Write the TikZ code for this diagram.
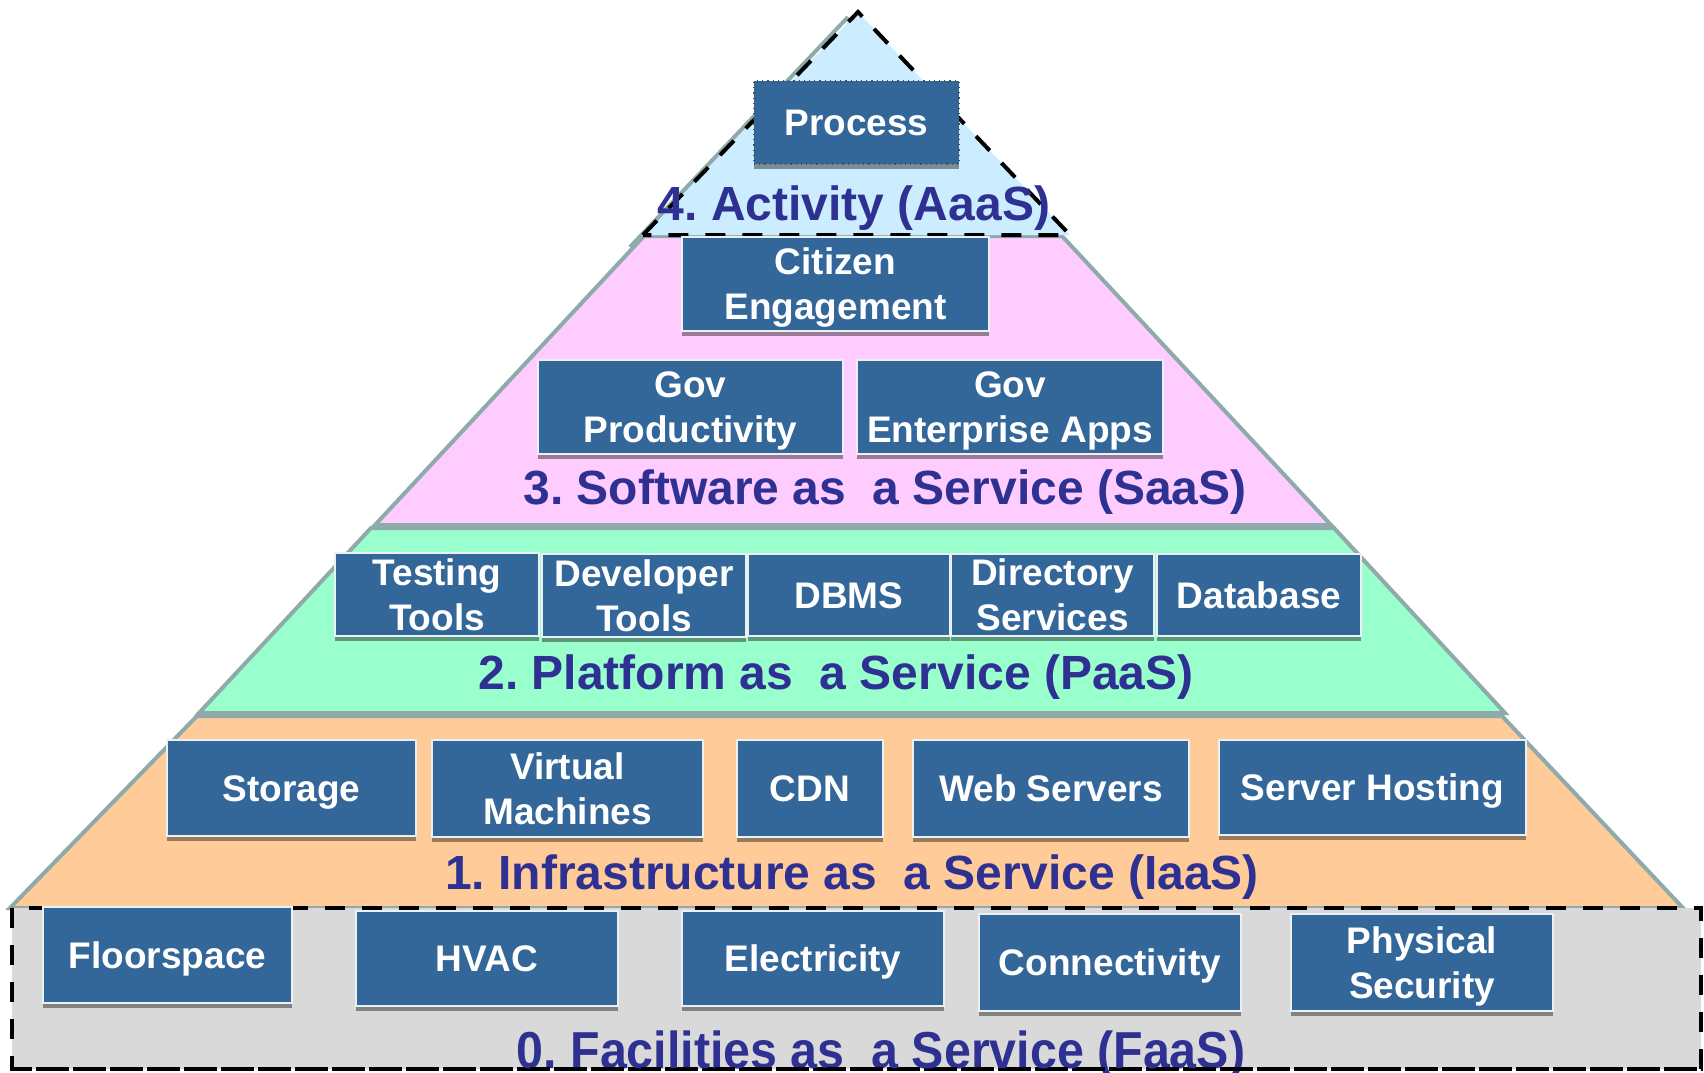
\documentclass[tikz,border=0pt]{standalone}
\usepackage{fontspec}
\setmainfont{Liberation Sans}
\usetikzlibrary{shadows}
\frenchspacing
\definecolor{boxblue}{HTML}{336699}
\definecolor{lblue}{HTML}{2E3192}
\definecolor{edgegray}{HTML}{8FAAAA}
\definecolor{actfill}{HTML}{CCECFF}
\definecolor{saasfill}{HTML}{FFCCFF}
\definecolor{paasfill}{HTML}{99FFCC}
\definecolor{iaasfill}{HTML}{FFCC99}
\definecolor{faasfill}{HTML}{D9D9D9}
\tikzset{
  layer/.style={draw=edgegray, line width=2pt, line join=miter},
  blackdash/.style={draw=black, line width=2pt, dash pattern=on 10pt off 8.5pt},
  box/.style 2 args={rectangle, fill=boxblue, draw=white!90!boxblue, line width=0.6pt,
    minimum width=#1*0.5pt, minimum height=#2*0.5pt, inner sep=0pt,
    align=center, text=white, font=\fontsize{18.5}{22.5}\selectfont\bfseries,
    text height=13.3pt, text depth=0pt,
    drop shadow={shadow xshift=0pt, shadow yshift=-2.4pt, opacity=0.4, fill=black}},
  two/.style={text height=35.8pt, text depth=0pt},
  layerlabel/.style={anchor=base, text=lblue, inner sep=0pt, font=\fontsize{24}{28}\selectfont\bfseries}
}
\begin{document}
\begin{tikzpicture}[x=0.5pt, y=-0.5pt]
\useasboundingbox (0,0) rectangle (1704,1072);
\clip (0,0) rectangle (1704,1072);
% layers
\path[layer, fill=iaasfill] (197,716) -- (1502,716) -- (1683,908) -- (10,908) -- cycle;
\path[layer, fill=paasfill] (371,528) -- (1334,528) -- (1505,713) -- (199,713) -- cycle;
\path[layer, fill=saasfill] (644,236) -- (1062,236) -- (1331,525) -- (375,525) -- cycle;
\path[fill=actfill] (858,12) -- (1070,235) -- (643,235) -- cycle;
\draw[edgegray, line width=2pt] (848,17) -- (630,247);
\draw[blackdash] (643,235) -- (858,12) -- (1070,235) -- cycle;
\path[fill=faasfill] (12,908) rectangle (1701,1069);
\draw[blackdash] (12,908) rectangle (1701,1069);

% layer labels
\node[layerlabel] (l4) at (854,220) {4. Activity (AaaS)};
\node[layerlabel] (l3) at (885,504) {3. Software as~~a Service (SaaS)};
\node[layerlabel] (l2) at (836,689) {2. Platform as~~a Service (PaaS)};
\node[layerlabel] (l1) at (852,889) {1. Infrastructure as~~a Service (IaaS)};
\node[layerlabel, font=\fontsize{26}{30}\selectfont\bfseries] (l0) at (881,1068) {\scalebox{0.93}[1]{0. Facilities as~~a Service (FaaS)}};
\draw[blackdash] (12,1069) -- (1701,1069);

% boxes
\node[box={205}{83}, draw=black!70, dotted] (process) at (856.5,122.5) {Process};
\node[box={307}{94}, two] (citizen) at (835.5,284) {Citizen\\Engagement};
\node[box={305}{94}, two] (govprod) at (690.5,407) {Gov\\Productivity};
\node[box={306}{94}, two] (govent) at (1010,407) {Gov\\Enterprise Apps};

\node[box={204}{83}, two] (testing) at (437,594.5) {Testing\\Tools};
\node[box={204}{83}, two] (devtools) at (644,595.5) {Developer\\Tools};
\node[box={202}{82}] (dbms) at (849,595) {DBMS};
\node[box={203}{82}, two] (directory) at (1052.5,595) {Directory\\Services};
\node[box={204}{82}] (database) at (1259,595) {Database};

\node[box={249}{96}] (storage) at (291.5,788) {Storage};
\node[box={271}{97}, two] (vm) at (567.5,788.5) {Virtual\\Machines};
\node[box={146}{97}] (cdn) at (810,788.5) {CDN};
\node[box={276}{97}] (web) at (1051,788.5) {Web Servers};
\node[box={307}{95}] (hosting) at (1372.5,787.5) {Server Hosting};

\node[box={249}{96}] (floor) at (167.5,955) {Floorspace};
\node[box={262}{95}] (hvac) at (487,958.5) {HVAC};
\node[box={262}{95}] (elec) at (813,958.5) {Electricity};
\node[box={262}{97}] (conn) at (1110,962.5) {Connectivity};
\node[box={262}{97}, two] (phys) at (1422,962.5) {Physical\\Security};
\end{tikzpicture}
\end{document}
